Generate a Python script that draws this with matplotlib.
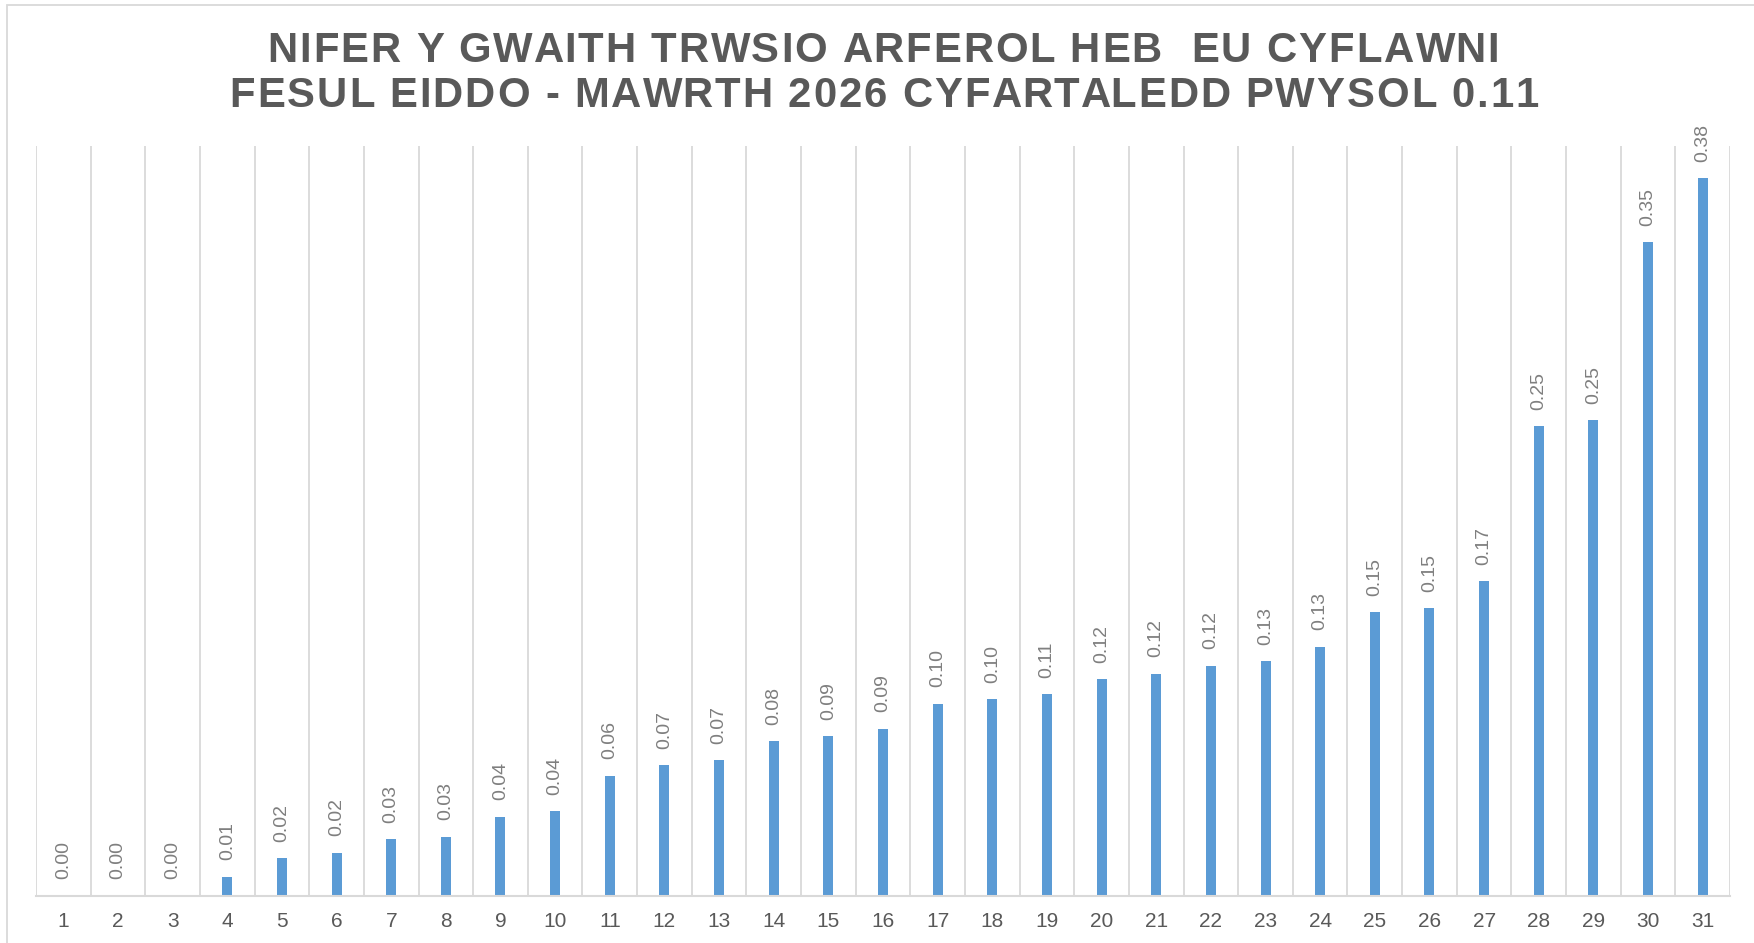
import matplotlib
matplotlib.use("Agg")
import matplotlib.pyplot as plt
from matplotlib.patches import Rectangle
import numpy as np

categories = [str(i) for i in range(1, 32)]
values = [0.0, 0.0, 0.0, 0.010, 0.020, 0.023, 0.030, 0.0315, 0.042, 0.045,
          0.064, 0.0697, 0.0724, 0.0824, 0.0852, 0.0891, 0.1023, 0.1048, 0.1076, 0.1156,
          0.1183, 0.1227, 0.1252, 0.1329, 0.1512, 0.1534, 0.1679, 0.2506, 0.2538, 0.3486,
          0.3828]
title_lines = ["NIFER Y GWAITH TRWSIO ARFEROL HEB  EU CYFLAWNI",
               "FESUL EIDDO - MAWRTH 2026 CYFARTALEDD PWYSOL 0.11"]

W, H = 1754, 943
DPI = 100
plt.rcParams['font.family'] = ['Liberation Sans', 'DejaVu Sans']

fig = plt.figure(figsize=(W / DPI, H / DPI), dpi=DPI)
fig.patch.set_facecolor('white')

left_px, right_px, top_px, base_px = 36, 1730, 146, 895.7
ax = fig.add_axes([left_px / W, 1 - base_px / H, (right_px - left_px) / W, (base_px - top_px) / H])

x = np.arange(1, len(categories) + 1)
ax.bar(x, values, width=0.183, color='#5B9BD5', zorder=3)
ax.set_xlim(0.5, len(categories) + 0.5)
ax.set_ylim(0, 0.4)

# vertical category gridlines at boundaries
for b in np.arange(0.5, len(categories) + 1, 1.0):
    ax.axvline(b, color='#D9D9D9', lw=1.3, zorder=1)

for s in ['top', 'right', 'left']:
    ax.spines[s].set_visible(False)
ax.spines['bottom'].set_color('#D9D9D9')
ax.spines['bottom'].set_linewidth(1.5)
ax.spines['bottom'].set_zorder(4)
ax.set_yticks([])
ax.set_xticks(x)
ax.set_xticklabels(categories, fontsize=15, color='#595959')
ax.tick_params(axis='x', length=0, pad=12)

for xi, v in zip(x, values):
    ax.annotate(f"{v:.2f}", (xi, v), xytext=(0, 16.5), textcoords='offset pixels',
                rotation=90, ha='center', va='bottom', fontsize=14, color='#7F7F7F')

# chart border
fig.add_artist(Rectangle((7 / W, -0.1), 1.2, 1.1 - 5 / H, transform=fig.transFigure,
                         fill=False, ec='#D9D9D9', lw=1.3))

# title with letter tracking
renderer = fig.canvas.get_renderer()
from matplotlib.font_manager import FontProperties
prop = FontProperties(family='Liberation Sans', weight='bold', size=30.2)

def text_w(s):
    w, h, d = renderer.get_text_width_height_descent(s, prop, ismath=False)
    return w

def draw_tracked(s, cx, baseline, tracking):
    wI = text_w("I")
    offs = [text_w(s[:i] + "I") - wI if i > 0 else 0.0 for i in range(len(s))]
    total = text_w(s) + tracking * (len(s) - 1)
    x0 = cx - total / 2
    for i, ch in enumerate(s):
        if ch == ' ':
            continue
        fig.text((x0 + offs[i] + i * tracking) / W, 1 - baseline / H, ch,
                 fontproperties=prop, color='#595959', ha='left', va='baseline')

draw_tracked(title_lines[0], 883, 61.7, 1.95)
draw_tracked(title_lines[1], 883, 107.3, 1.95)

fig.savefig('out.png', dpi=DPI, facecolor='white')
